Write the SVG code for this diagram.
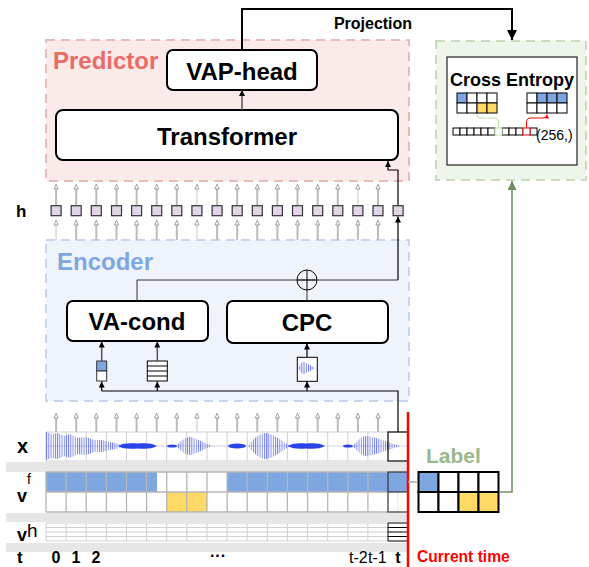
<svg xmlns="http://www.w3.org/2000/svg" width="589" height="567" viewBox="0 0 589 567">
<defs>
<style>
text{font-family:"Liberation Sans",Arial,sans-serif;}
.b{font-weight:bold;}
.box{fill:#fff;stroke:#000;stroke-width:2;}
.ga path{stroke:#bbb;stroke-width:2;fill:none;marker-end:url(#go);}
.ga path.l{stroke:#e2e2e2;}
.blk{stroke:#000;stroke-width:1.2;fill:none;marker-end:url(#ah);}
.dk{stroke:#555;stroke-width:1.5;fill:none;marker-end:url(#ah);}
.hs{fill:#e1d5e7;stroke:#333;stroke-width:1.2;}
.grid{stroke:#b5b5b5;stroke-width:1.3;fill:none;}
.lgrid{stroke:#d0d0d0;stroke-width:1;fill:none;}
.band{fill:#e6e6e6;}
</style>
<marker id="ah" viewBox="0 0 10 10" refX="10" refY="5" markerWidth="6" markerHeight="6" orient="auto" markerUnits="userSpaceOnUse"><path d="M0,0L10,5L0,10z" fill="#000"/></marker>
<marker id="ahb" viewBox="0 0 10 10" refX="10" refY="5" markerWidth="10" markerHeight="10" orient="auto" markerUnits="userSpaceOnUse"><path d="M0,0L10,5L0,10z" fill="#000"/></marker>
<marker id="agr" viewBox="0 0 10 10" refX="10" refY="5" markerWidth="9" markerHeight="9" orient="auto" markerUnits="userSpaceOnUse"><path d="M0,0L10,5L0,10z" fill="#6f8f5f"/></marker>
<marker id="ared" viewBox="0 0 10 10" refX="10" refY="5" markerWidth="4" markerHeight="4" orient="auto" markerUnits="userSpaceOnUse"><path d="M0,0L10,5L0,10z" fill="#f00"/></marker>
<marker id="go" viewBox="0 0 10 10" refX="1" refY="5" markerWidth="6" markerHeight="6" orient="auto" markerUnits="userSpaceOnUse"><path d="M1,1.5L9,5L1,8.5z" fill="#fff" stroke="#8a8a8a" stroke-width="1.3"/></marker>
<pattern id="wv" width="2.2" height="40" patternUnits="userSpaceOnUse"><rect width="0.9" height="40" fill="#5563ea"/></pattern>
</defs>

<!-- containers -->
<g id="predictor">
<rect x="46" y="40" width="363" height="141" fill="#fbeaea" stroke="#e8baba" stroke-width="2" stroke-dasharray="9,6"/>
<text x="53" y="69" class="b" font-size="24" fill="#ea6b66">Predictor</text>
</g>
<g id="encoder">
<rect x="46" y="240" width="363" height="161" fill="#eff3fc" stroke="#c9d5ec" stroke-width="2" stroke-dasharray="9,6"/>
<text x="57" y="270" class="b" font-size="24" fill="#7ea6e0">Encoder</text>
</g>
<g id="loss">
<rect x="436" y="41" width="150" height="139" fill="#eef5ea" stroke="#c9dcbf" stroke-width="2" stroke-dasharray="9,6"/>
<rect x="447" y="57" width="130" height="108" fill="#fff" stroke="#333" stroke-width="1.3"/>
<text x="512" y="86" class="b" font-size="18" text-anchor="middle">Cross Entropy</text>
<g stroke="#000" stroke-width="1">
<rect x="457" y="93" width="10" height="10" fill="#7ea6e0"/><rect x="467" y="93" width="10" height="10" fill="#fff"/><rect x="477" y="93" width="10" height="10" fill="#fff"/><rect x="487" y="93" width="10" height="10" fill="#fff"/>
<rect x="457" y="103" width="10" height="10" fill="#fff"/><rect x="467" y="103" width="10" height="10" fill="#fff"/><rect x="477" y="103" width="10" height="10" fill="#ffd966"/><rect x="487" y="103" width="10" height="10" fill="#ffd966"/>
<rect x="527" y="93" width="10" height="10" fill="#fff"/><rect x="537" y="93" width="10" height="10" fill="#7ea6e0"/><rect x="547" y="93" width="10" height="10" fill="#7ea6e0"/><rect x="557" y="93" width="10" height="10" fill="#7ea6e0"/>
<rect x="527" y="103" width="10" height="10" fill="#fff"/><rect x="537" y="103" width="10" height="10" fill="#fff"/><rect x="547" y="103" width="10" height="10" fill="#fff"/><rect x="557" y="103" width="10" height="10" fill="#fff"/>
</g>
<g fill="#fff" stroke="#000" stroke-width="1">
<rect x="453" y="128" width="7" height="7"/><rect x="460" y="128" width="7" height="7"/><rect x="467" y="128" width="7" height="7"/><rect x="474" y="128" width="7" height="7"/><rect x="481" y="128" width="7" height="7"/><rect x="488" y="128" width="7" height="7"/>
<rect x="502" y="128" width="7" height="7"/><rect x="509" y="128" width="7" height="7"/><rect x="516" y="128" width="7" height="7"/><rect x="530" y="128" width="7" height="7"/>
<rect x="495" y="128" width="7" height="7" stroke="#b9e0a5"/><rect x="523" y="128" width="7" height="7" stroke="#f00"/>
</g>
<path d="M498.5,128V122Q498.5,118 494,118H481Q477,118 477,114" fill="none" stroke="#b9e0a5" stroke-width="1"/>
<path d="M526.5,128V122Q526.5,118 531,118H543Q547,118 547,114.5" fill="none" stroke="#f00" stroke-width="1" marker-end="url(#ared)"/>
<text x="536" y="140" font-size="14">(256,)</text>
</g>

<!-- nodes -->
<g id="vap-head"><rect class="box" x="167" y="50" width="150" height="40" rx="6"/><text x="242" y="80" class="b" font-size="24" text-anchor="middle">VAP-head</text></g>
<g id="transformer"><rect class="box" x="56" y="110" width="342" height="50" rx="7"/><text x="227" y="145" class="b" font-size="24" text-anchor="middle">Transformer</text></g>
<g id="va-cond"><rect class="box" x="67" y="301" width="141" height="40" rx="6"/><text x="137" y="330" class="b" font-size="24" text-anchor="middle">VA-cond</text></g>
<g id="cpc"><rect class="box" x="227" y="301" width="161" height="42" rx="6"/><text x="307" y="331" class="b" font-size="24" text-anchor="middle">CPC</text></g>
<g id="plus"><circle cx="307" cy="280" r="10" fill="none" stroke="#000" stroke-width="1"/><path d="M297,280H317M307,270V290" stroke="#000" stroke-width="1"/></g>
<g id="va-icon"><rect x="96.7" y="361" width="10" height="10" fill="#7ea6e0" stroke="#333"/><rect x="96.7" y="371" width="10" height="10" fill="#fff" stroke="#333"/></g>
<g id="vh-icon"><rect x="147.3" y="361" width="20" height="20" fill="#fff" stroke="#000"/><path d="M147.3,366H167.3M147.3,371H167.3M147.3,376H167.3" stroke="#000"/></g>
<g id="cpc-icon"><rect x="297.3" y="357.3" width="20" height="24" fill="#fff" stroke="#000"/><path d="M299,368C301,361 304,361 306,363C310,365 313,367 315,368C313,369 310,371 306,373C304,375 301,375 299,368Z" fill="url(#wv)"/><path d="M298,368H316" stroke="#b8c0f0" stroke-width="0.6"/></g>

<g id="h-row">
<text x="16" y="217" class="b" font-size="17">h</text>
<g class="hs">
<rect x="51.1" y="205.7" width="10" height="10"/><rect x="71.2" y="205.7" width="10" height="10"/><rect x="91.3" y="205.7" width="10" height="10"/><rect x="111.5" y="205.7" width="10" height="10"/><rect x="131.6" y="205.7" width="10" height="10"/><rect x="151.7" y="205.7" width="10" height="10"/><rect x="171.8" y="205.7" width="10" height="10"/><rect x="191.9" y="205.7" width="10" height="10"/><rect x="212.1" y="205.7" width="10" height="10"/><rect x="232.2" y="205.7" width="10" height="10"/><rect x="252.3" y="205.7" width="10" height="10"/><rect x="272.4" y="205.7" width="10" height="10"/><rect x="292.5" y="205.7" width="10" height="10"/><rect x="312.7" y="205.7" width="10" height="10"/><rect x="332.8" y="205.7" width="10" height="10"/><rect x="352.9" y="205.7" width="10" height="10"/><rect x="373" y="205.7" width="10" height="10"/><rect x="393.1" y="205.7" width="10" height="10"/>
</g>
</g>

<g id="x-row">
<text x="17" y="453" class="b" font-size="20">x</text>
<path class="lgrid" d="M46,432H388M46,461H388M46,432V461M66.1,432V461M86.2,432V461M106.4,432V461M126.5,432V461M146.6,432V461M166.7,432V461M186.8,432V461M207,432V461M227.1,432V461M247.2,432V461M267.3,432V461M287.4,432V461M307.6,432V461M327.7,432V461M347.8,432V461M367.9,432V461"/>
<path d="M46,446H408" stroke="#c0c6f2" stroke-width="0.8"/>
<g fill="url(#wv)" opacity="0.85">
<path d="M46,446L46,432L52,434L58,433L64,436L70,434L78,438L86,437L94,440L102,440L110,442L116,443L121,445L121,447L116,449L110,450L102,452L94,452L86,455L78,454L70,458L64,456L58,459L52,458L46,460Z"/>
<path d="M176,446C182,440 186,437 190,437C196,438 204,443 212,446C204,449 196,454 190,455C186,455 182,452 176,446Z"/>
<path d="M248,446C254,438 260,433 266,433C274,434 282,441 290,446C282,451 274,458 266,459C260,459 254,454 248,446Z"/>
<path d="M353,446C358,440 362,436 366,436C376,437 390,443 400,446C390,449 376,455 366,456C362,456 358,452 353,446Z"/>
</g>
<g fill="#2a44e8">
<path d="M118,446C122,443 130,443 138,443.5C146,443 152,443 157,446C152,449 146,449 138,448.5C130,449 122,449 118,446Z"/>
<ellipse cx="172" cy="446" rx="5" ry="1.6"/>
<ellipse cx="237" cy="446" rx="9" ry="2.5"/>
<path d="M288,446C292,443 300,443 306,443.5C314,443 320,443 325,446C320,449 314,449 306,448.5C300,449 292,449 288,446Z"/>
<ellipse cx="348" cy="446" rx="5" ry="1.6"/>
</g>
<rect x="388" y="432" width="20" height="29" fill="none" stroke="#000" stroke-width="1.2"/>
</g>

<g id="bands">
<rect class="band" x="6" y="462" width="402" height="10"/>
<rect class="band" x="6" y="513" width="402" height="9"/>
<rect class="band" x="6" y="543" width="402" height="9"/>
</g>

<g id="vf-row">
<text x="17" y="502" class="b" font-size="18">v</text><text x="27" y="484" font-size="14" fill="#000">f</text>
<rect x="46" y="472" width="111" height="20" fill="#7ea6e0"/>
<rect x="227.1" y="472" width="181" height="20" fill="#7ea6e0"/>
<rect x="166.7" y="492" width="40.3" height="20" fill="#ffd966"/>
<path class="grid" d="M46,472H388M46,492H388M46,512H388M46,472V512M66.1,472V512M86.2,472V512M106.4,472V512M126.5,472V512M146.6,472V512M166.7,472V512M186.8,472V512M207,472V512M227.1,472V512M247.2,472V512M267.3,472V512M287.4,472V512M307.6,472V512M327.7,472V512M347.8,472V512M367.9,472V512"/>
<path d="M398,493V519" stroke="#e4e4e4" stroke-width="1"/>
<rect x="388" y="472" width="20" height="40" fill="none" stroke="#333" stroke-width="1.2"/>
<path d="M388,492H408" stroke="#333" stroke-width="1.2"/>
</g>

<g id="vh-row">
<text x="17" y="541" class="b" font-size="18">v</text><text x="27" y="537" font-size="19">h</text>
<path class="lgrid" d="M46,523H388M46,527.5H388M46,532H388M46,536.5H388M46,541H388M46,523V541M66.1,523V541M86.2,523V541M106.4,523V541M126.5,523V541M146.6,523V541M166.7,523V541M186.8,523V541M207,523V541M227.1,523V541M247.2,523V541M267.3,523V541M287.4,523V541M307.6,523V541M327.7,523V541M347.8,523V541M367.9,523V541"/>
<path d="M388,523H408M388,527.5H408M388,532H408M388,536.5H408M388,541H408M388,523V541" stroke="#000" stroke-width="1" fill="none"/>
</g>

<g id="t-row" class="b" font-size="16">
<text x="17" y="563" font-size="17">t</text>
<text x="56" y="563" text-anchor="middle">0</text>
<text x="76" y="563" text-anchor="middle">1</text>
<text x="96" y="563" text-anchor="middle">2</text>
<text x="218" y="561" text-anchor="middle">···</text>
<text x="349" y="563" font-weight="normal">t-2</text>
<text x="368" y="563" font-weight="normal">t-1</text>
<text x="398" y="563" text-anchor="middle">t</text>
</g>

<g id="current-time">
<path d="M408,412V567" stroke="#f00" stroke-width="2.5"/>
<text x="417" y="562" class="b" font-size="15.6" fill="#f00">Current time</text>
</g>

<g id="label">
<text x="426" y="463" class="b" font-size="21" fill="#9ab88a">Label</text>
<g stroke="#000" stroke-width="2">
<rect x="418.5" y="472" width="20" height="20" fill="#7ea6e0"/><rect x="438.5" y="472" width="20" height="20" fill="#fff"/><rect x="458.5" y="472" width="20" height="20" fill="#fff"/><rect x="478.5" y="472" width="20" height="20" fill="#fff"/>
<rect x="418.5" y="492" width="20" height="20" fill="#fff"/><rect x="438.5" y="492" width="20" height="20" fill="#fff"/><rect x="458.5" y="492" width="20" height="20" fill="#ffd966"/><rect x="478.5" y="492" width="20" height="20" fill="#ffd966"/>
</g>
</g>

<!-- connectors -->
<g id="connectors">
<g class="ga">
<path d="M56.1,205V189"/><path d="M76.2,205V189"/><path d="M96.3,205V189"/><path d="M116.5,205V189"/><path d="M136.6,205V189"/><path d="M156.7,205V189"/><path d="M176.8,205V189"/><path class="l" d="M196.9,205V189"/><path d="M217.1,205V189"/><path d="M237.2,205V189"/><path d="M257.3,205V189"/><path d="M277.4,205V189"/><path d="M297.5,205V189"/><path d="M317.7,205V189"/><path d="M337.8,205V189"/><path class="l" d="M357.9,205V189"/><path d="M378,205V189"/>
<path class="l" d="M56.1,240V225"/><path d="M76.2,240V225"/><path d="M96.3,240V225"/><path d="M116.5,240V225"/><path d="M136.6,240V225"/><path d="M156.7,240V225"/><path d="M176.8,240V225"/><path class="l" d="M196.9,240V225"/><path d="M217.1,240V225"/><path d="M237.2,240V225"/><path d="M257.3,240V225"/><path d="M277.4,240V225"/><path d="M297.5,240V225"/><path d="M317.7,240V225"/><path d="M337.8,240V225"/><path d="M357.9,240V225"/><path d="M378,240V225"/>
<path d="M56.1,432V418"/><path d="M76.2,432V418"/><path d="M96.3,432V418"/><path d="M116.5,432V418"/><path d="M136.6,432V418"/><path d="M156.7,432V418"/><path d="M176.8,432V418"/><path class="l" d="M196.9,432V418"/><path d="M217.1,432V418"/><path d="M237.2,432V418"/><path d="M257.3,432V418"/><path d="M277.4,432V418"/><path d="M297.5,432V418"/><path d="M317.7,432V418"/><path d="M337.8,432V418"/><path d="M357.9,432V418"/><path d="M378,432V418"/>
</g>
<path class="dk" d="M242,110V90"/>
<path d="M242,50V9H512V40" stroke="#000" stroke-width="2" fill="none" marker-end="url(#ahb)"/>
<text x="373" y="29" class="b" font-size="16" text-anchor="middle">Projection</text>
<path class="blk" d="M398,205V170H388V161"/>
<path class="blk" d="M398,280V216.5"/>
<path d="M137,301V280H398" stroke="#333" stroke-width="1" fill="none"/>
<path d="M307,301V290" stroke="#333" stroke-width="1" fill="none"/>
<path class="blk" d="M307,357V343.5"/>
<path class="dk" d="M101.7,361V341.5"/>
<path class="dk" d="M157.3,361V341.5"/>
<path d="M398,432V391H101.7" stroke="#000" stroke-width="1.2" fill="none"/>
<path class="blk" d="M101.7,391V381.5"/>
<path class="blk" d="M157.3,391V381.5"/>
<path class="blk" d="M307,391V381.5"/>
<path d="M408,482H418" stroke="#aaa" stroke-width="1.5"/>
<path d="M499,492H512V181" stroke="#6f8f5f" stroke-width="1.5" fill="none" marker-end="url(#agr)"/>
</g>
</svg>
